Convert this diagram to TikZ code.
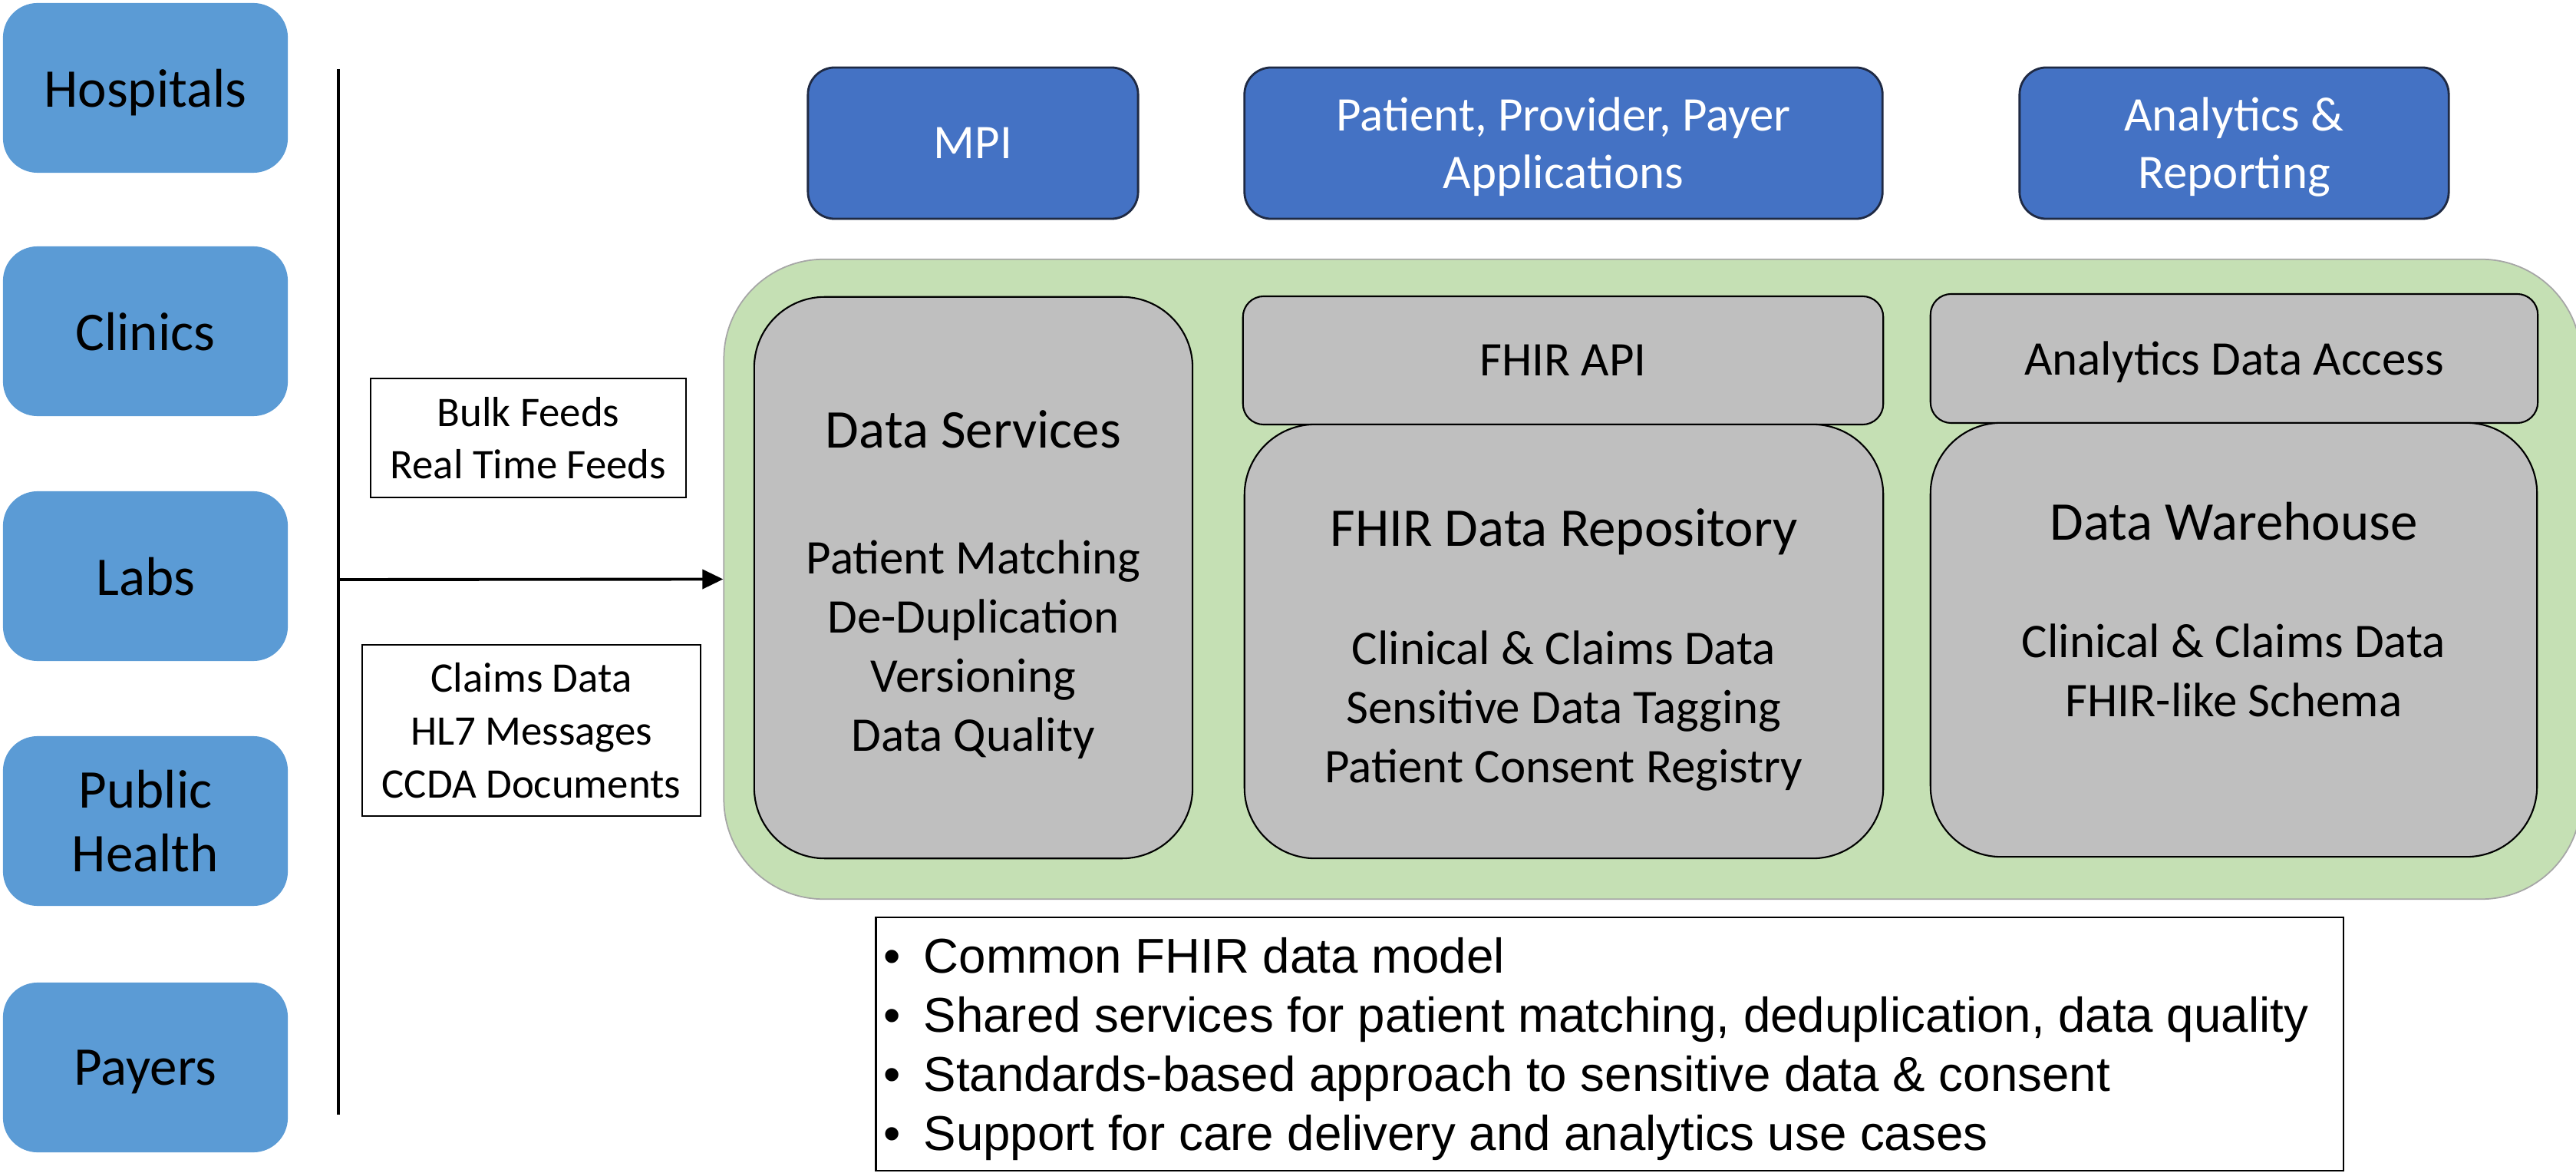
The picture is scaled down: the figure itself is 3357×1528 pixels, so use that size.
\documentclass[tikz,border=0pt]{standalone}
\usepackage{fontspec}
\setmainfont{Carlito}
\newfontfamily\arialf{Liberation Sans}
\usetikzlibrary{arrows.meta}
\definecolor{srcblue}{HTML}{5B9BD5}
\definecolor{appblue}{HTML}{4472C4}
\definecolor{appborder}{HTML}{1F2A44}
\definecolor{boxgray}{HTML}{BFBFBF}
\definecolor{coregreen}{HTML}{C5E0B4}
\definecolor{coreborder}{HTML}{A6A6A6}
\tikzset{
  srcbox/.style={fill=srcblue, rounded corners=0.45cm, minimum width=3.71cm, minimum height=2.21cm,
    inner sep=0pt, align=center, text depth=0pt, font=\fontsize{20.2pt}{23.6pt}\selectfont},
  appbox/.style={fill=appblue, draw=appborder, line width=0.8pt, rounded corners=0.35cm,
    minimum height=1.97cm, inner sep=0pt, align=center, text=white, text depth=0pt,
    font=\fontsize{17.9pt}{21.3pt}\selectfont},
  corebox/.style={fill=coregreen, draw=coreborder, line width=0.5pt, rounded corners=1.3cm, inner sep=0pt},
  graybig/.style={fill=boxgray, draw=black, line width=0.6pt, rounded corners=0.92cm, inner sep=0pt},
  graysmall/.style={fill=boxgray, draw=black, line width=0.6pt, rounded corners=0.27cm, inner sep=0pt,
    text depth=0pt, font=\fontsize{17.9pt}{21.9pt}\selectfont},
  headtxt/.style={inner sep=0pt, text depth=0pt, font=\fontsize{20.2pt}{24pt}\selectfont},
  itemtxt/.style={inner sep=0pt, align=center, text depth=0pt, font=\fontsize{17.9pt}{21.9pt}\selectfont},
  feedbox/.style={draw=black, line width=0.6pt, fill=white, inner sep=0pt, align=center, text depth=0pt,
    font=\fontsize{15.6pt}{19.5pt}\selectfont},
  notebox/.style={draw=black, line width=0.6pt, inner sep=0pt},
  notetxt/.style={inner sep=0pt, anchor=base west, font=\arialf\fontsize{18.1pt}{21.9pt}\selectfont},
  bus/.style={line width=1.1pt, draw=black},
  flow/.style={line width=1.1pt, draw=black, -{Triangle[length=0.27cm,width=0.25cm]}}
}
\begin{document}
\begin{tikzpicture}[x=0.01cm, y=-0.01cm]
\useasboundingbox (0,0) rectangle (3357,1528);

% source boxes
\node[srcbox] (hosp) at (189.5,114.5) {Hospitals};
\node[srcbox] (clin) at (189.5,431.5) {Clinics};
\node[srcbox] (labs) at (189.5,750.5) {Labs};
\node[srcbox] (pubh) at (189.5,1069.5) {Public\\Health};
\node[srcbox] (pay)  at (189.5,1390.5) {Payers};

% bus line and arrow
\coordinate (bustop) at (441,90);
\coordinate (busbot) at (441,1452);
\coordinate (busmid) at (441,755);
\draw[bus] (bustop) -- (busbot);

% core green container
\node[corebox, minimum width=24.19cm, minimum height=8.33cm] (core) at (2153.5,754.5) {};
\draw[flow] (busmid) -- (core.west);

% feed labels
\node[feedbox, minimum width=4.11cm, minimum height=1.55cm] (feeds1) at (688.5,570.5) {Bulk Feeds\\Real Time Feeds};
\node[feedbox, minimum width=4.41cm, minimum height=2.23cm] (feeds2) at (692.5,951.5) {Claims Data\\HL7 Messages\\CCDA Documents};

% top application boxes
\node[appbox, minimum width=4.30cm] (mpi) at (1268,186.5) {MPI};
\node[appbox, minimum width=8.31cm] (apps) at (2037.5,186.5) {Patient, Provider, Payer\\Applications};
\node[appbox, minimum width=5.59cm] (anrep) at (2911.5,186.5) {Analytics \&\\Reporting};

% data services
\node[graybig, minimum width=5.71cm, minimum height=7.31cm] (dsvc) at (1268.5,752.5) {};
\node[headtxt] (dsvch) at (1268.5,559) {Data Services};
\node[itemtxt] (dsvci) at (1268.5,841.5) {Patient Matching\\De-Duplication\\Versioning\\Data Quality};

% FHIR API + repository
\node[graysmall, minimum width=8.34cm, minimum height=1.67cm] (fapi) at (2037,469.5) {FHIR API};
\node[graybig, minimum width=8.32cm, minimum height=5.65cm] (frepo) at (2038,835.5) {};
\node[headtxt] (frepoh) at (2038,687) {FHIR Data Repository};
\node[itemtxt] (frepoi) at (2038,921) {Clinical \& Claims Data\\Sensitive Data Tagging\\Patient Consent Registry};

% analytics data access + warehouse
\node[graysmall, minimum width=7.91cm, minimum height=1.68cm] (ada) at (2911.5,467) {Analytics Data Access};
\node[graybig, minimum width=7.90cm, minimum height=5.65cm] (dwh) at (2911,833.5) {};
\node[headtxt] (dwhh) at (2911,679) {Data Warehouse};
\node[itemtxt] (dwhi) at (2911,873.5) {Clinical \& Claims Data\\FHIR-like Schema};

% notes
\node[notebox, minimum width=19.11cm, minimum height=3.30cm] (notes) at (2097.5,1360) {};
\node[notetxt] (b1) at (1151,1267) {•};
\node[notetxt] (n1) at (1203,1267) {Common FHIR data model};
\node[notetxt] (b2) at (1151,1344) {•};
\node[notetxt] (n2) at (1203,1344) {Shared services for patient matching, deduplication, data quality};
\node[notetxt] (b3) at (1151,1421) {•};
\node[notetxt] (n3) at (1203,1421) {Standards-based approach to sensitive data \& consent};
\node[notetxt] (b4) at (1151,1498) {•};
\node[notetxt] (n4) at (1203,1498) {Support for care delivery and analytics use cases};
\end{tikzpicture}
\end{document}
